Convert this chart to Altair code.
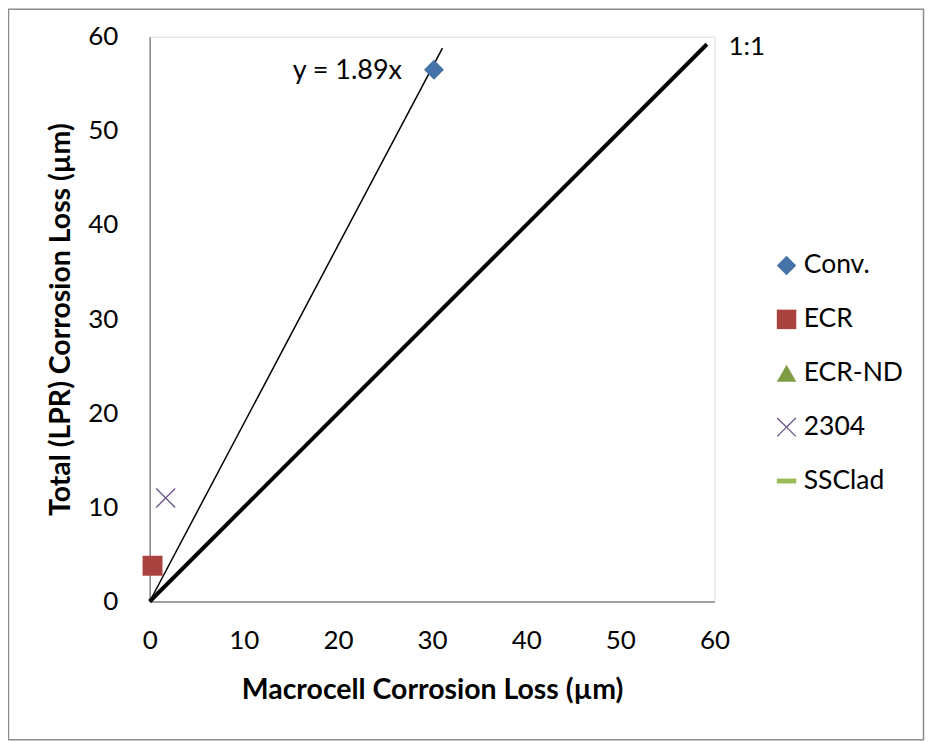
import altair as alt
import pandas as pd

# ---- data ----
series_names = ["Conv.", "ECR", "ECR-ND", "2304", "SSClad"]
series_colors = ["#4572A7", "#A9433F", "#7F9C45", "#70588F", "#9BBB59"]
x_pattern = "M-1,-0.9L-0.9,-1L0,-0.1L0.9,-1L1,-0.9L0.1,0L1,0.9L0.9,1L0,0.1L-0.9,1L-1,0.9L-0.1,0Z"
bar_pattern = "M-1,-0.25L1,-0.25L1,0.25L-1,0.25Z"
series_shapes = ["diamond", "square", "triangle-up", x_pattern, bar_pattern]

point_series = ["Conv.", "ECR", "2304"]
point_x = [30.2, 0.3, 1.7]
point_y = [56.5, 3.8, 11.0]

fit_x = [0, 31.1]
fit_y = [0, 58.8]
one_x = [0, 59.2]
one_y = [0, 59.2]

fit_label = ["y = 1.89x"]
fit_label_x = [26.8]
fit_label_y = [56.4]
one_label = ["1:1"]
one_label_x = [61.5]
one_label_y = [58.9]

x_ticks = [0, 10, 20, 30, 40, 50, 60]
y_ticks = [0, 10, 20, 30, 40, 50, 60]

# ---- tables ----
pts = pd.DataFrame({"series": point_series, "x": point_x, "y": point_y})
fit = pd.DataFrame({"x": fit_x, "y": fit_y})
one = pd.DataFrame({"x": one_x, "y": one_y})
lab_fit = pd.DataFrame({"t": fit_label, "x": fit_label_x, "y": fit_label_y})
lab_one = pd.DataFrame({"t": one_label, "x": one_label_x, "y": one_label_y})

FONT = "Lato"
xs = alt.Scale(domain=[0, 60], nice=False, zero=True)
ys = alt.Scale(domain=[0, 60], nice=False, zero=True)

common = dict(grid=False, ticks=False, tickSize=0, labelFontSize=26, labelFont=FONT,
              labelColor="black", labelFlush=False, domainColor="#868686", domainWidth=1.5,
              titleFont=FONT, titleFontSize=28.5, titleFontWeight="bold", titleColor="black",
              titleBaseline="alphabetic", titleAlign="center")

x_axis = alt.Axis(values=x_ticks, title="Macrocell Corrosion Loss (µm)",
                  labelPadding=26, titleX=283, titleY=97, **common)
y_axis = alt.Axis(values=y_ticks, title="Total (LPR) Corrosion Loss (µm)",
                  labelPadding=32, titleX=-80, titleY=283, titleAngle=270, **common)

border = alt.Chart(pd.DataFrame({"k": [0]})).mark_rect(
    fillOpacity=0, stroke="#8c8c8c", strokeWidth=1.5, clip=False
).encode(x=alt.value(-141.5), x2=alt.value(775.5), y=alt.value(-27.5), y2=alt.value(704.5))

one_line = alt.Chart(one).mark_line(color="black", strokeWidth=4, clip=False).encode(
    x=alt.X("x:Q", scale=xs, axis=x_axis), y=alt.Y("y:Q", scale=ys, axis=y_axis))
fit_line = alt.Chart(fit).mark_line(color="black", strokeWidth=1.5, clip=False).encode(
    x=alt.X("x:Q", scale=xs), y=alt.Y("y:Q", scale=ys))

leg = alt.Legend(title=None, orient="none", legendX=625, legendY=216,
                 labelFontSize=26.5, labelFont=FONT, symbolSize=380,
                 rowPadding=27, labelOffset=4, padding=0, symbolStrokeWidth=0)

points = alt.Chart(pts).mark_point(filled=True, size=400, opacity=1, clip=False).encode(
    x=alt.X("x:Q", scale=xs),
    y=alt.Y("y:Q", scale=ys),
    color=alt.Color("series:N", scale=alt.Scale(domain=series_names, range=series_colors),
                    legend=leg),
    shape=alt.Shape("series:N", scale=alt.Scale(domain=series_names, range=series_shapes),
                    legend=leg),
)

text_fit = alt.Chart(lab_fit).mark_text(fontSize=27, font=FONT, baseline="middle",
                                        align="right", color="black").encode(
    x=alt.X("x:Q", scale=xs), y=alt.Y("y:Q", scale=ys), text="t:N")
text_one = alt.Chart(lab_one).mark_text(fontSize=26, font=FONT, baseline="middle",
                                        align="left", color="black").encode(
    x=alt.X("x:Q", scale=xs), y=alt.Y("y:Q", scale=ys), text="t:N")

chart = alt.layer(border, one_line, fit_line, points, text_fit, text_one).properties(
    width=566, height=566,
    padding={"left": 142, "top": 28, "right": 211, "bottom": 141},
    autosize=alt.AutoSizeParams(type="none"),
).configure_view(stroke=None).configure(background="white")

chart.save("out.html", embed_options={"renderer": "svg", "actions": False})
